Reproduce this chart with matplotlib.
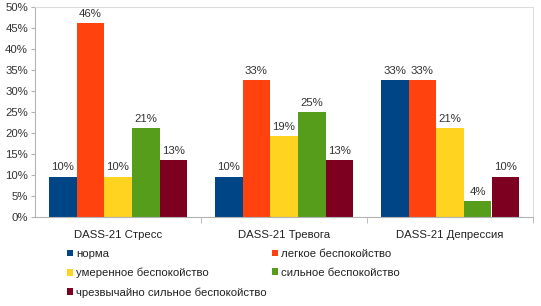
import matplotlib
matplotlib.use("Agg")
import matplotlib.pyplot as plt
import numpy as np

plt.rcParams['font.family'] = ['Liberation Sans', 'DejaVu Sans']

categories = ["DASS-21 Стресс", "DASS-21 Тревога", "DASS-21 Депрессия"]
series_names = ["норма", "легкое беспокойство", "умеренное беспокойство",
                "сильное беспокойство", "чрезвычайно сильное беспокойство"]
norma = [9.62, 9.62, 32.69]
legkoe = [46.15, 32.69, 32.69]
umerennoe = [9.62, 19.23, 21.15]
silnoe = [21.15, 25.00, 3.85]
chrezv = [13.46, 13.46, 9.62]
series_values = [norma, legkoe, umerennoe, silnoe, chrezv]
colors = ["#004586", "#ff420e", "#ffd320", "#579d1c", "#7e0021"]
yticks = [0, 5, 10, 15, 20, 25, 30, 35, 40, 45, 50]

fig = plt.figure(figsize=(5.41, 3.06), dpi=100)
ax = fig.add_axes([35/541, 1-217/306, (533-35)/541, (217-7)/306])

x = np.arange(len(categories))
w = 1/6
handles = []
for i, (name, vals, c) in enumerate(zip(series_names, series_values, colors)):
    pos = x + (i - 2) * w
    b = ax.bar(pos, vals, width=w, color=c, label=name, linewidth=0)
    handles.append(b)
    for p, v in zip(pos, vals):
        ax.text(p, v + 1.0, f"{v:.0f}%", ha='center', va='bottom',
                fontsize=8.2, color='#333333')

ax.set_xlim(-0.5, len(categories) - 0.5)
ax.set_ylim(0, 50)
ax.set_yticks(yticks)
ax.set_yticklabels([f"{t}%" for t in yticks], fontsize=8.2, color='#333333')
ax.set_xticks(x)
ax.set_xticklabels(categories, fontsize=8.2, color='#222222')
ax.set_xticks([0.5, 1.5, 2.5], minor=True)
ax.tick_params(axis='x', which='major', length=0, pad=9)
ax.tick_params(axis='x', which='minor', length=4, color='#b3b3b3')
ax.tick_params(axis='y', length=3, color='#b3b3b3', pad=2)
for s in ['left', 'bottom']:
    ax.spines[s].set_color('#b3b3b3')
    ax.spines[s].set_linewidth(0.8)
for s in ['top', 'right']:
    ax.spines[s].set_color('#dddddd')
    ax.spines[s].set_linewidth(0.8)

order = [0, 2, 4, 1, 3]
leg = fig.legend([handles[k] for k in order], [series_names[k] for k in order],
                 ncol=2, loc='upper left', bbox_to_anchor=(67/541, 1-249/306),
                 frameon=False, fontsize=8.2, handlelength=0.55, handleheight=0.55,
                 handletextpad=0.25, columnspacing=0.45, labelspacing=0.78,
                 borderpad=0, borderaxespad=0)
for t in leg.get_texts():
    t.set_color('#222222')

fig.savefig("out.png", dpi=100, facecolor='white')
